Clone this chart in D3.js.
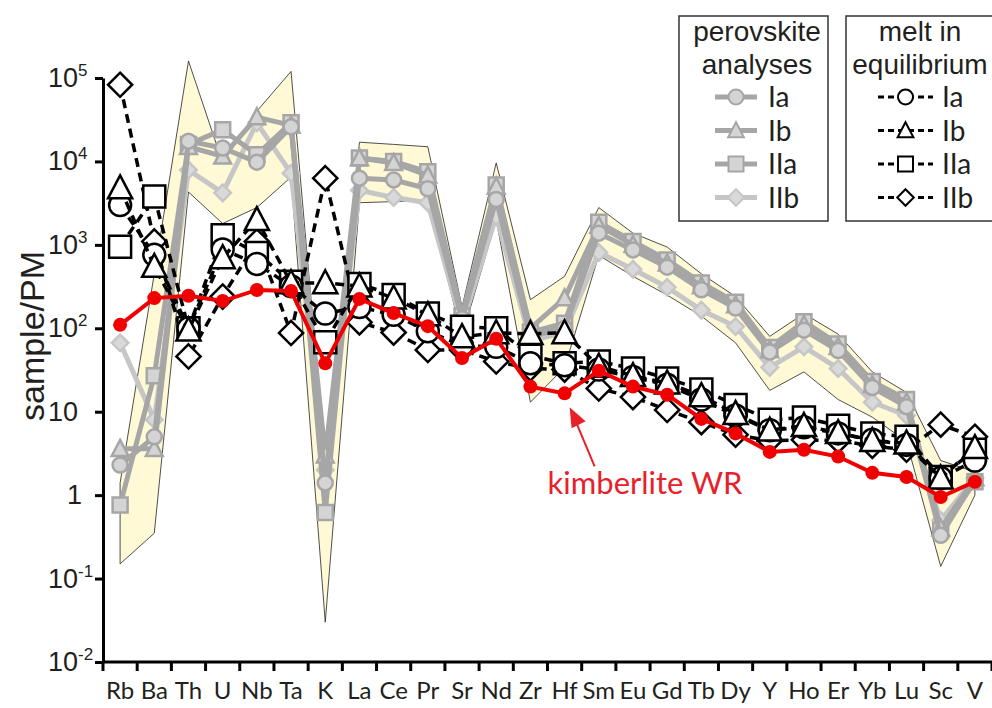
<!DOCTYPE html>
<html>
<head>
<meta charset="utf-8">
<script src="https://cdn.jsdelivr.net/npm/d3@7"></script>
<style>
body { margin: 0; background: #fff; }
svg { display: block; }
</style>
</head>
<body>
<svg id="chart" width="992" height="708"></svg>
<script>
// Elements on the x axis (primitive mantle normalised).
var elements = ["Rb", "Ba", "Th", "U", "Nb", "Ta", "K", "La", "Ce", "Pr", "Sr", "Nd", "Zr", "Hf",
    "Sm", "Eu", "Gd", "Tb", "Dy", "Y", "Ho", "Er", "Yb", "Lu", "Sc", "V"];

// Perovskite analyses (grey, solid).
var perovIa = [2.3, 5.0, 17500, 14500, 9800, 26000, 1.4, 6300, 6000, 4700, 130, 3500, 80, 100,
    1380, 870, 540, 290, 175, 52, 95, 54, 19.5, 11.5, 0.33, 1.5];
var perovIb = [3.6, 3.6, 15000, 11500, 34000, 27000, 3, 11000, 9600, 6800, 140, 5000, 100, 230,
    1700, 1000, 600, 320, 190, 55, 110, 60, 21, 13, 0.4, 1.6];
var perovIIa = [0.76, 27, 16000, 24000, 12000, 29000, 0.62, 11000, 10000, 7500, 140, 5200, 90, 115,
    1870, 1100, 660, 350, 205, 59, 120, 65, 23, 14, 0.38, 1.45];
var perovIIb = [67, 8, 7900, 4200, 29000, 7200, 2, 4500, 3700, 3200, 110, 2200, 70, 90,
    810, 510, 310, 165, 105, 34, 60, 33, 13, 9, 0.5, 1.6];

// Range of perovskite compositions (yellow field).
var bandUpper = [1.4, 450, 160000, 9600, 40000, 120000, 2.5, 17000, 16000, 15000, 180, 9600, 220, 420,
    2800, 1380, 940, 450, 240, 80, 150, 85, 30, 17, 2.6, 1.9];
var bandLower = [0.15, 0.35, 4300, 1800, 2800, 6500, 0.03, 3200, 3300, 3400, 80, 2000, 13, 34,
    750, 420, 250, 140, 67, 18, 30, 14, 8.6, 4.4, 0.14, 1.0];

// Melt in equilibrium (black, dashed).
var meltIa = [3000, 760, 100, 880, 590, 320, 150, 180, 145, 92, 62, 60, 38, 36,
    32, 26, 21, 14, 9, 6, 6.5, 5.5, 4.6, 4, 1.6, 2.6];
var meltIb = [4800, 550, 95, 700, 2000, 350, 350, 320, 230, 145, 79, 88, 86, 88,
    35, 27, 22, 15.5, 9.5, 6, 6.8, 5.6, 4.5, 4.2, 1.6, 3.7];
var meltIIa = [950, 3800, 100, 1300, 800, 360, 68, 340, 250, 150, 104, 100, 47, 38,
    40, 33, 25, 18.5, 12, 8, 8.5, 6.8, 5.5, 5, 1.65, 3.5];
var meltIIb = [83000, 1100, 46, 240, 1100, 88, 6300, 118, 89, 55, 55, 40, 33, 32,
    19, 15, 10.5, 7.5, 5.3, 4.5, 4.6, 4.5, 3.9, 3.5, 7, 5];

// Kimberlite whole rock (red).
var kimberliteWR = [110, 230, 245, 212, 288, 280, 38, 225, 152, 106, 44, 75, 20, 16.6,
    31, 20, 16, 8.2, 5.5, 3.3, 3.5, 2.9, 1.85, 1.65, 0.95, 1.45];

var yTickValues = [1e5, 1e4, 1e3, 1e2, 10, 1, 0.1, 0.01];
var yTickBase = ["10", "10", "10", "10", "10", "1", "10", "10"];
var yTickExp = ["5", "4", "3", "2", "", "", "-1", "-2"];

var legendLabels = ["Ia", "Ib", "IIa", "IIb"];

var svg = d3.select("#chart");

var x = d3.scaleBand().domain(elements).range([103, 992]).padding(0);
var y = d3.scaleLog().domain([0.01, 1e5]).range([662, 78]);

function cx(i) {
    return x(elements[i]) + x.bandwidth() / 2;
}

// Marker outline for a given shape and half size.
function markerPath(shape, r) {
    var p = d3.path();
    if (shape == "circle") {
        p.arc(0, 0, r, 0, 2 * Math.PI);
    } else if (shape == "square") {
        p.rect(-r, -r, 2 * r, 2 * r);
    } else if (shape == "triangle") {
        p.moveTo(0, -1.1 * r);
        p.lineTo(1.05 * r, 0.9 * r);
        p.lineTo(-1.05 * r, 0.9 * r);
        p.closePath();
    } else if (shape == "diamond") {
        p.moveTo(0, -1.1 * r);
        p.lineTo(1.1 * r, 0);
        p.lineTo(0, 1.1 * r);
        p.lineTo(-1.1 * r, 0);
        p.closePath();
    }
    return p.toString();
}

var line = d3.line()
    .x(function (d, i) { return cx(i); })
    .y(function (d) { return y(d); });

// Yellow field.
var band = d3.area()
    .x(function (d, i) { return cx(i); })
    .y0(function (d, i) { return y(bandLower[i]); })
    .y1(function (d, i) { return y(bandUpper[i]); });

svg.append("path")
    .datum(elements)
    .attr("d", band)
    .attr("fill", "#fff9d6")
    .attr("stroke", "#222")
    .attr("stroke-width", 0.8);

// Perovskite series.
var perovSeries = [
    {values: perovIIb, shape: "diamond", r: 7.5, line: "#c6c6c6", fill: "#d9d9d9", stroke: "#c6c6c6"},
    {values: perovIIa, shape: "square", r: 7.5, line: "#a6a6a6", fill: "#d4d4d4", stroke: "#a6a6a6"},
    {values: perovIb, shape: "triangle", r: 8, line: "#a6a6a6", fill: "#d4d4d4", stroke: "#a6a6a6"},
    {values: perovIa, shape: "circle", r: 7.5, line: "#a6a6a6", fill: "#d4d4d4", stroke: "#a6a6a6"}
];

perovSeries.forEach(function (s) {
    var g = svg.append("g");
    g.append("path")
        .datum(s.values)
        .attr("d", line)
        .attr("fill", "none")
        .attr("stroke", s.line)
        .attr("stroke-width", 5)
        .attr("stroke-linejoin", "round");
    g.selectAll("path.marker")
        .data(s.values)
        .enter()
        .append("path")
        .attr("class", "marker")
        .attr("transform", function (d, i) { return "translate(" + cx(i) + "," + y(d) + ")"; })
        .attr("d", markerPath(s.shape, s.r))
        .attr("fill", s.fill)
        .attr("stroke", s.stroke)
        .attr("stroke-width", 2.5);
});

// Melt series.
var meltSeries = [
    {values: meltIIb, shape: "diamond", r: 11},
    {values: meltIIa, shape: "square", r: 11},
    {values: meltIa, shape: "circle", r: 11},
    {values: meltIb, shape: "triangle", r: 11.5}
];

meltSeries.forEach(function (s) {
    var g = svg.append("g");
    g.append("path")
        .datum(s.values)
        .attr("d", line)
        .attr("fill", "none")
        .attr("stroke", "#000")
        .attr("stroke-width", 3.5)
        .attr("stroke-dasharray", "9,6");
    g.selectAll("path.marker")
        .data(s.values)
        .enter()
        .append("path")
        .attr("class", "marker")
        .attr("transform", function (d, i) { return "translate(" + cx(i) + "," + y(d) + ")"; })
        .attr("d", markerPath(s.shape, s.r))
        .attr("fill", "#fff")
        .attr("stroke", "#000")
        .attr("stroke-width", 2.5);
});

// Kimberlite whole rock.
svg.append("path")
    .datum(kimberliteWR)
    .attr("d", line)
    .attr("fill", "none")
    .attr("stroke", "#f00000")
    .attr("stroke-width", 4);
svg.append("g")
    .selectAll("circle")
    .data(kimberliteWR)
    .enter()
    .append("circle")
    .attr("cx", function (d, i) { return cx(i); })
    .attr("cy", function (d) { return y(d); })
    .attr("r", 7)
    .attr("fill", "#f00000");

// Annotation for the red line, anchored at Hf.
var hfIndex = elements.indexOf("Hf");
var hx = cx(hfIndex), hy = y(kimberliteWR[hfIndex]);
var red = "#e8202a";
svg.append("line")
    .attr("x1", hx + 30).attr("y1", hy + 73)
    .attr("x2", hx + 12).attr("y2", hy + 30)
    .attr("stroke", red)
    .attr("stroke-width", 2);
svg.append("path")
    .attr("d", "M" + (hx + 5) + "," + (hy + 14) + "L" + (hx + 7) + "," + (hy + 35) + "L" + (hx + 21) + "," + (hy + 28) + "Z")
    .attr("fill", red);
svg.append("text")
    .attr("x", hx - 17)
    .attr("y", hy + 101)
    .attr("font-family", "Lato, 'Open Sans', sans-serif")
    .attr("font-size", 31)
    .attr("fill", red)
    .text("kimberlite WR");

// Axes.
var yAxis = d3.axisLeft(y)
    .tickValues(yTickValues)
    .tickSize(8)
    .tickSizeOuter(0)
    .tickFormat("");
var yAxisG = svg.append("g")
    .attr("transform", "translate(103,0)")
    .call(yAxis);
yAxisG.selectAll("path, line").attr("stroke", "#000").attr("stroke-width", 3);

svg.append("line")
    .attr("x1", 103).attr("x2", 992)
    .attr("y1", 662).attr("y2", 662)
    .attr("stroke", "#000")
    .attr("stroke-width", 3);

svg.append("g")
    .selectAll("line")
    .data(d3.range(elements.length + 1))
    .enter()
    .append("line")
    .attr("x1", function (d) { return 103 + d * x.step(); })
    .attr("x2", function (d) { return 103 + d * x.step(); })
    .attr("y1", 662)
    .attr("y2", 671)
    .attr("stroke", "#000")
    .attr("stroke-width", 3);

svg.append("g")
    .selectAll("text")
    .data(elements)
    .enter()
    .append("text")
    .attr("x", function (d, i) { return cx(i); })
    .attr("y", 699)
    .attr("text-anchor", "middle")
    .attr("font-family", "Lato, 'Open Sans', sans-serif")
    .attr("font-size", 24)
    .attr("fill", "#231f20")
    .text(function (d) { return d; });

var yLabels = svg.append("g")
    .selectAll("text")
    .data(yTickValues)
    .enter()
    .append("text")
    .attr("x", function (d, i) { return yTickBase[i] == "1" ? 82 : 48; })
    .attr("y", function (d) { return y(d) + 9; })
    .attr("text-anchor", function (d, i) { return yTickBase[i] == "1" ? "end" : "start"; })
    .attr("font-family", "'Liberation Sans', Arial, sans-serif")
    .attr("font-size", 27)
    .attr("fill", "#231f20");
yLabels.append("tspan")
    .text(function (d, i) { return yTickBase[i]; });
yLabels.append("tspan")
    .attr("dy", -11)
    .attr("font-size", 17)
    .text(function (d, i) { return yTickExp[i]; });

svg.append("text")
    .attr("transform", "translate(44,336) rotate(-90)")
    .attr("text-anchor", "middle")
    .attr("font-family", "'Liberation Sans', Arial, sans-serif")
    .attr("font-size", 34)
    .attr("fill", "#231f20")
    .text("sample/PM");

// Legends.
function drawLegend(left, width, title, centerX, lineX1, lineX2, labelX, series, dashed) {
    var g = svg.append("g");
    g.append("rect")
        .attr("x", left).attr("y", 16)
        .attr("width", width).attr("height", 205)
        .attr("fill", "#fff")
        .attr("stroke", "#333")
        .attr("stroke-width", 1.5);
    g.selectAll("text.title")
        .data(title)
        .enter()
        .append("text")
        .attr("class", "title")
        .attr("x", centerX)
        .attr("y", function (d, i) { return 41 + i * 33; })
        .attr("text-anchor", "middle")
        .attr("font-family", "'Liberation Sans', Arial, sans-serif")
        .attr("font-size", 28)
        .attr("fill", "#231f20")
        .text(function (d) { return d; });
    series.forEach(function (s, i) {
        var ly = 97 + i * 33.5;
        g.append("line")
            .attr("x1", lineX1).attr("x2", lineX2)
            .attr("y1", ly).attr("y2", ly)
            .attr("stroke", dashed ? "#000" : s.line)
            .attr("stroke-width", dashed ? 3 : 5)
            .attr("stroke-dasharray", dashed ? "6,4" : null);
        g.append("path")
            .attr("transform", "translate(" + ((lineX1 + lineX2) / 2) + "," + ly + ")")
            .attr("d", markerPath(s.shape, 7.5))
            .attr("fill", dashed ? "#fff" : s.fill)
            .attr("stroke", dashed ? "#000" : s.stroke)
            .attr("stroke-width", 2);
        g.append("text")
            .attr("x", labelX)
            .attr("y", ly + 10)
            .attr("font-family", "Lato, 'Open Sans', sans-serif")
            .attr("font-size", 28)
            .attr("fill", "#231f20")
            .text(legendLabels[i]);
    });
}

var legendShapes = [perovSeries[3], perovSeries[2], perovSeries[1], perovSeries[0]];
drawLegend(679, 149, ["perovskite", "analyses"], 757, 715, 757, 768, legendShapes, false);
drawLegend(846, 170, ["melt in", "equilibrium"], 920, 878, 933, 942, legendShapes, true);
</script>
</body>
</html>
